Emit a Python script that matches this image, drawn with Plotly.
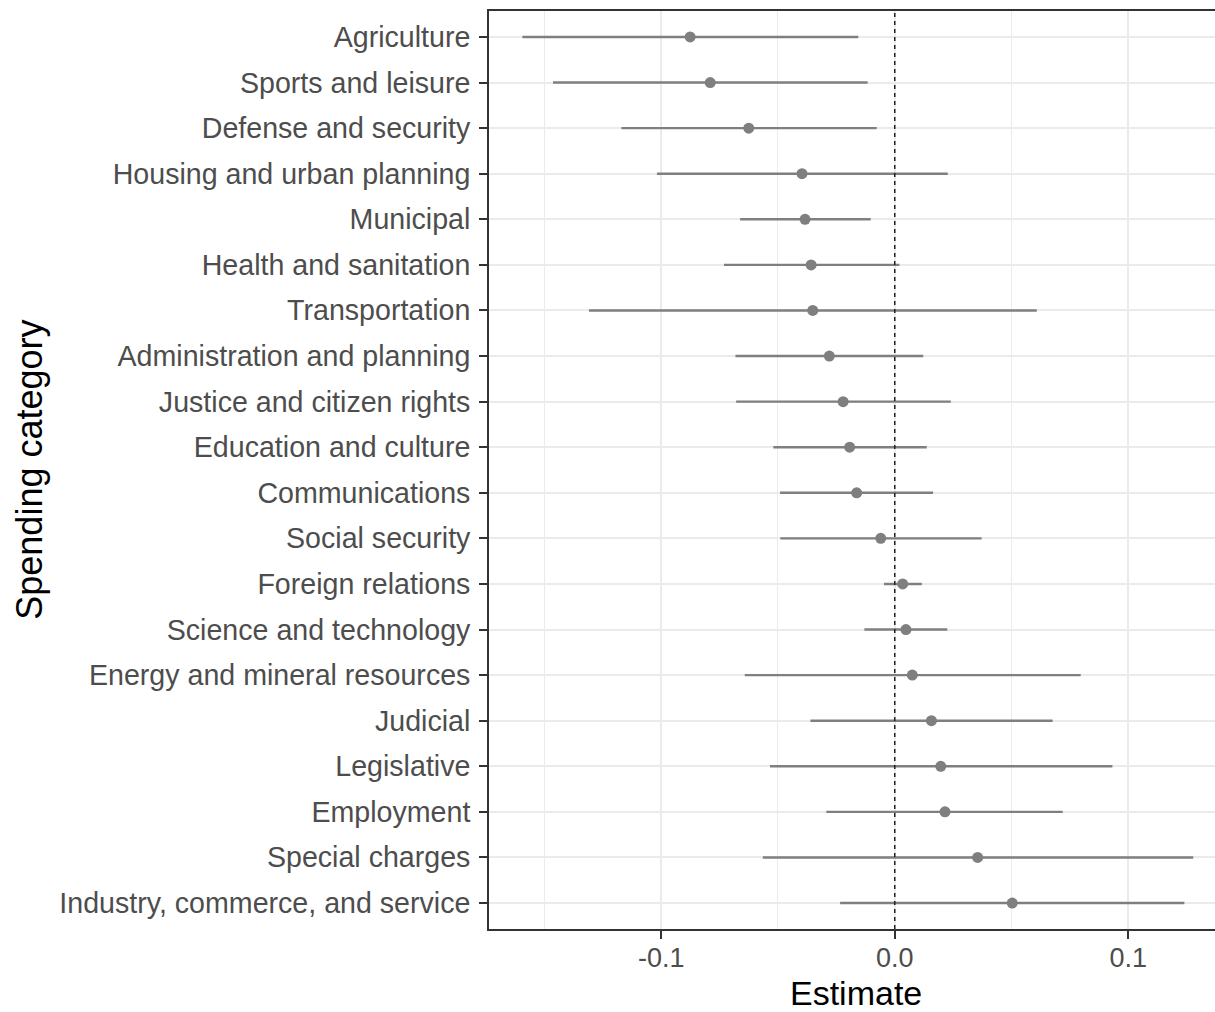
import plotly.graph_objects as go

# Spending categories, top to bottom
categories = [
    "Agriculture", "Sports and leisure", "Defense and security",
    "Housing and urban planning", "Municipal", "Health and sanitation",
    "Transportation", "Administration and planning", "Justice and citizen rights",
    "Education and culture", "Communications", "Social security",
    "Foreign relations", "Science and technology", "Energy and mineral resources",
    "Judicial", "Legislative", "Employment", "Special charges",
    "Industry, commerce, and service",
]
estimate = [
    -0.0876, -0.0790, -0.0625, -0.0397, -0.0384, -0.0358, -0.0351, -0.0280,
    -0.0221, -0.0193, -0.0163, -0.0060, 0.0034, 0.0048, 0.0075, 0.0157,
    0.0197, 0.0215, 0.0355, 0.0503,
]
conf_low = [
    -0.1594, -0.1463, -0.1170, -0.1018, -0.0662, -0.0731, -0.1309, -0.0682,
    -0.0679, -0.0520, -0.0491, -0.0490, -0.0046, -0.0130, -0.0642, -0.0361,
    -0.0534, -0.0293, -0.0565, -0.0234,
]
conf_high = [
    -0.0156, -0.0116, -0.0077, 0.0227, -0.0103, 0.0020, 0.0608, 0.0122,
    0.0240, 0.0137, 0.0164, 0.0372, 0.0116, 0.0225, 0.0796, 0.0676,
    0.0932, 0.0719, 0.1278, 0.1240,
]
x_ticks = [-0.1, 0.0, 0.1]
x_tick_labels = ["-0.1", "0.0", "0.1"]

err_plus = [h - e for h, e in zip(conf_high, estimate)]
err_minus = [e - l for e, l in zip(estimate, conf_low)]

GREY = "#7f7f7f"
FONT = "Liberation Sans, Arial, sans-serif"

fig = go.Figure()
fig.add_trace(go.Scatter(
    x=estimate, y=categories, mode="markers",
    marker=dict(color=GREY, size=11),
    error_x=dict(type="data", symmetric=False, array=err_plus,
                 arrayminus=err_minus, width=0, thickness=2.4, color=GREY),
    showlegend=False, hoverinfo="skip",
))

fig.add_vline(x=0, line=dict(color="#222222", width=1.5, dash="4px,4px"), layer="above")

# Axis titles placed in the margins
fig.add_annotation(
    text="Spending category", textangle=-90,
    xref="paper", yref="paper", x=-0.634, y=0.5,
    xanchor="center", yanchor="middle", showarrow=False,
    font=dict(size=36, color="black", family=FONT),
)
fig.add_annotation(
    text="Estimate",
    xref="paper", yref="paper", x=0.5055, y=-0.0697,
    xanchor="center", yanchor="middle", height=36, valign="middle",
    showarrow=False,
    font=dict(size=34, color="black", family=FONT),
)

fig.update_layout(
    width=1215, height=1012,
    margin=dict(l=489, r=0, t=11, b=83),
    paper_bgcolor="white", plot_bgcolor="white",
    font=dict(family=FONT),
    xaxis=dict(
        range=[-0.1737, 0.1371],
        tickvals=x_ticks, ticktext=x_tick_labels,
        tickfont=dict(size=27, color="#4d4d4d"),
        ticks="outside", ticklen=8, tickwidth=2, tickcolor="#333333",
        ticklabelstandoff=-4,
        showgrid=True, gridcolor="#ebebeb", gridwidth=2,
        minor=dict(dtick=0.1, tick0=0.05, showgrid=True, gridcolor="#ebebeb",
                   gridwidth=1, ticks=""),
        showline=True, linecolor="#333333", linewidth=1.8, mirror=True,
        zeroline=False,
    ),
    yaxis=dict(
        type="category",
        categoryorder="array", categoryarray=categories[::-1],
        range=[-0.57, len(categories) - 1 + 0.57],
        tickfont=dict(size=28.6, color="#4d4d4d"),
        ticks="outside", ticklen=8, tickwidth=2, tickcolor="#333333",
        ticklabelstandoff=3,
        showgrid=True, gridcolor="#ebebeb", gridwidth=2,
        showline=True, linecolor="#333333", linewidth=1.8, mirror=False,
        zeroline=False,
    ),
)

fig.write_html("out.html")
